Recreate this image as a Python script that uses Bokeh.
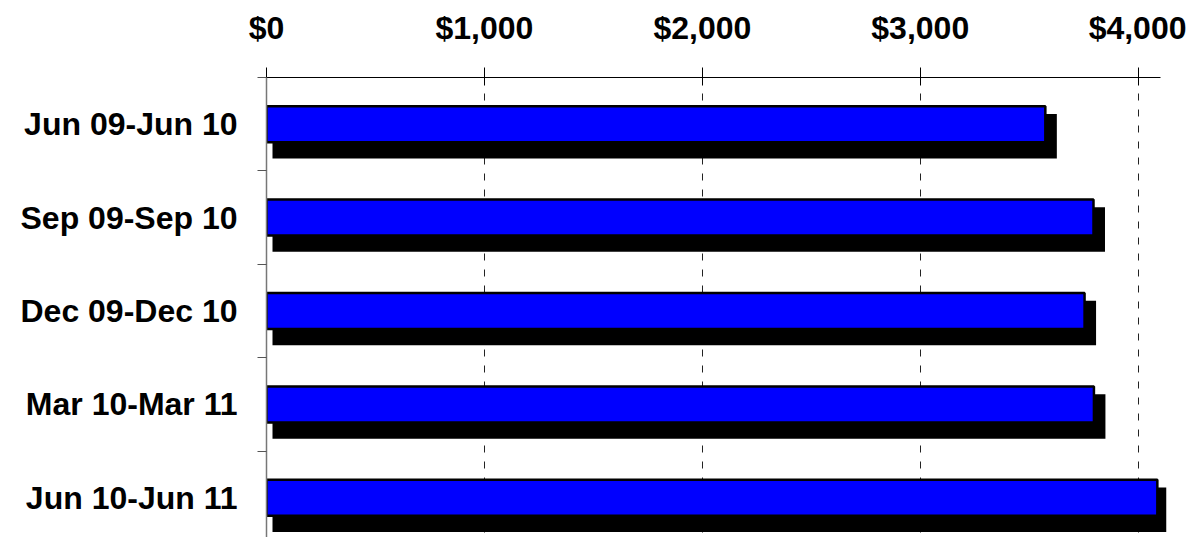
from bokeh.plotting import figure
from bokeh.models import Range1d, FixedTicker, NumeralTickFormatter, ColumnDataSource
from bokeh.embed import file_html
from bokeh.resources import INLINE

periods = ["Jun 09-Jun 10", "Sep 09-Sep 10", "Dec 09-Dec 10", "Mar 10-Mar 11", "Jun 10-Jun 11"]
amounts = [3574, 3795, 3754, 3797, 4088]
x_ticks = [0, 1000, 2000, 3000, 4000]

FONT = "Liberation Sans"
frame_w, frame_h = 900, 460
x_end = 4130
px_per_unit = frame_w / x_end
cat_px = 93.4
y_bottom = -0.5 + frame_h / cat_px

idx = list(range(len(periods)))
src = ColumnDataSource(dict(
    y=idx,
    right=amounts,
    sy=[i + 12 / cat_px for i in idx],
    sleft=[6 / px_per_unit] * len(idx),
    sright=[a + 11.5 / px_per_unit for a in amounts],
))

p = figure(width=266 + frame_w + 20, height=77 + frame_h,
           x_range=Range1d(0, x_end), y_range=Range1d(y_bottom, -0.5),
           x_axis_location="above", output_backend="svg", toolbar_location=None,
           min_border_left=266, min_border_right=20, min_border_top=77, min_border_bottom=0)
p.outline_line_color = None

# shadow
p.hbar(y="sy", left="sleft", right="sright", height=44.5 / cat_px, source=src,
       fill_color="black", line_color=None)
# bars
p.hbar(y="y", left=0, right="right", height=36 / cat_px, source=src,
       fill_color="#0000FF", line_color="black", line_width=2.5)

# x axis (top)
xa = p.xaxis[0]
xa.ticker = FixedTicker(ticks=x_ticks)
xa.formatter = NumeralTickFormatter(format="$0,0")
xa.bounds = (0, 4103)
xa.major_tick_out = 10
xa.major_tick_in = 8
xa.minor_tick_out = 0
xa.minor_tick_in = 0
xa.axis_line_color = "black"
xa.major_tick_line_color = "black"
xa.major_label_text_font = FONT
xa.major_label_text_font_style = "bold"
xa.major_label_text_font_size = "32px"
xa.major_label_text_color = "black"
xa.major_label_standoff = 22

# y axis (left)
ya = p.yaxis[0]
ya.ticker = FixedTicker(ticks=idx, minor_ticks=[i - 0.5 for i in range(len(periods) + 1)])
ya.major_label_overrides = {i: s for i, s in enumerate(periods)}
ya.major_tick_out = 0
ya.major_tick_in = 0
ya.minor_tick_out = 9
ya.minor_tick_in = 0
ya.minor_tick_line_color = "#555555"
ya.axis_line_color = "#777777"
ya.axis_line_width = 1.5
ya.major_label_text_font = FONT
ya.major_label_text_font_style = "bold"
ya.major_label_text_font_size = "32px"
ya.major_label_text_color = "black"
ya.major_label_standoff = 20

p.xgrid.ticker = FixedTicker(ticks=x_ticks[1:])
p.xgrid.grid_line_color = "#222222"
p.xgrid.grid_line_dash = "7 9"
p.xgrid.grid_line_width = 1
p.ygrid.grid_line_color = None

open("out.html", "w").write(file_html(p, INLINE))
